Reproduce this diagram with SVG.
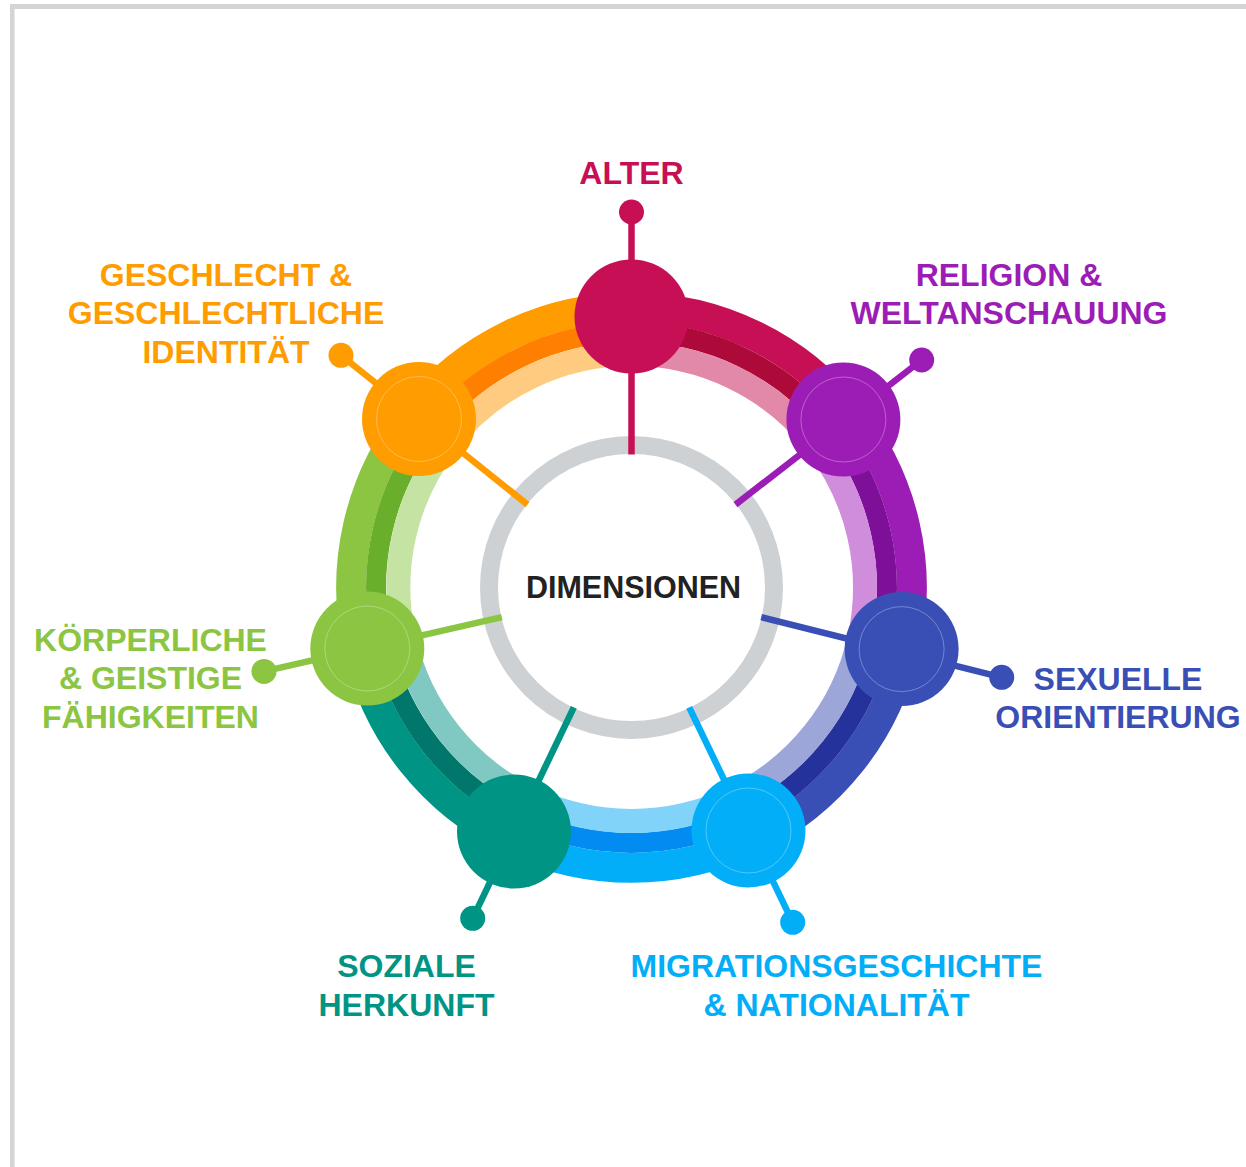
<svg xmlns="http://www.w3.org/2000/svg" width="1246" height="1167" viewBox="0 0 1246 1167">
<style>
text{font-family:"Liberation Sans",Arial,sans-serif;font-weight:bold;font-size:32px;text-anchor:middle}
text.ctr{font-size:30.5px}
.o{fill:none;stroke-width:30}
.m{fill:none;stroke-width:20}
.i{fill:none;stroke-width:24}
.ln{stroke-width:6.5;fill:none}
.inner{fill:none;stroke:#fff;stroke-opacity:0.3;stroke-width:1}
</style>
<rect x="0" y="0" width="1246" height="1167" fill="#fff"/>
<rect x="10" y="4" width="1236" height="5" fill="#D4D4D4"/>
<rect x="10" y="4" width="4.5" height="1163" fill="#D4D4D4"/>

<g id="ring">
  <!-- ALTER segment -->
  <path class="o" stroke="#C60F55" d="M631.5,307.2 A280.3,280.3 0 0 1 850.65,412.73"/>
  <path class="m" stroke="#AD0A3A" d="M631.5,332.1 A255.4,255.4 0 0 1 831.18,428.26"/>
  <path class="i" stroke="#E288A8" d="M631.5,354 A233.5,233.5 0 0 1 814.06,441.92"/>
  <!-- RELIGION segment -->
  <path class="o" stroke="#9C1DB5" d="M850.65,412.73 A280.3,280.3 0 0 1 904.77,649.87"/>
  <path class="m" stroke="#7E0F98" d="M831.18,428.26 A255.4,255.4 0 0 1 880.5,644.33"/>
  <path class="i" stroke="#CF8DDB" d="M814.06,441.92 A233.5,233.5 0 0 1 859.15,639.46"/>
  <!-- SEXUELLE segment -->
  <path class="o" stroke="#3A4FB6" d="M904.77,649.87 A280.3,280.3 0 0 1 753.12,840.04"/>
  <path class="m" stroke="#25329B" d="M880.5,644.33 A255.4,255.4 0 0 1 742.31,817.61"/>
  <path class="i" stroke="#9CA6D8" d="M859.15,639.46 A233.5,233.5 0 0 1 732.81,797.88"/>
  <!-- MIGRATION segment -->
  <path class="o" stroke="#03AEF8" d="M753.12,840.04 A280.3,280.3 0 0 1 509.88,840.04"/>
  <path class="m" stroke="#028CF2" d="M742.31,817.61 A255.4,255.4 0 0 1 520.69,817.61"/>
  <path class="i" stroke="#81D3FA" d="M732.81,797.88 A233.5,233.5 0 0 1 530.19,797.88"/>
  <!-- SOZIALE segment -->
  <path class="o" stroke="#009485" d="M509.88,840.04 A280.3,280.3 0 0 1 358.23,649.87"/>
  <path class="m" stroke="#00776A" d="M520.69,817.61 A255.4,255.4 0 0 1 382.5,644.33"/>
  <path class="i" stroke="#80C9C2" d="M530.19,797.88 A233.5,233.5 0 0 1 404.35,639.46"/>
  <!-- KOERPERLICHE segment -->
  <path class="o" stroke="#8BC541" d="M358.23,649.87 A280.3,280.3 0 0 1 412.35,412.73"/>
  <path class="m" stroke="#6AAF2B" d="M382.5,644.33 A255.4,255.4 0 0 1 431.82,428.26"/>
  <path class="i" stroke="#C5E3A3" d="M404.35,639.46 A233.5,233.5 0 0 1 448.94,441.92"/>
  <!-- GESCHLECHT segment -->
  <path class="o" stroke="#FF9C00" d="M412.35,412.73 A280.3,280.3 0 0 1 631.5,307.2"/>
  <path class="m" stroke="#FF7F00" d="M431.82,428.26 A255.4,255.4 0 0 1 631.5,332.1"/>
  <path class="i" stroke="#FFCB80" d="M448.94,441.92 A233.5,233.5 0 0 1 631.5,354"/>
</g>

<g id="center">
  <circle cx="631.5" cy="587.5" r="142.5" fill="#fff" stroke="#CDD1D4" stroke-width="18"/>
  <text class="ctr" x="633.5" y="598" fill="#222">DIMENSIONEN</text>
</g>

<g id="connectors">
  <line class="ln" stroke="#C60F55" x1="631.5" y1="454.5" x2="631.5" y2="212"/>
  <line class="ln" stroke="#9C1DB5" x1="735.5" y1="504.6" x2="921.7" y2="360"/>
  <line class="ln" stroke="#3A4FB6" x1="761.2" y1="617.1" x2="1001.7" y2="677.3"/>
  <line class="ln" stroke="#03AEF8" x1="689.2" y1="707.3" x2="792.7" y2="922.3"/>
  <line class="ln" stroke="#009485" x1="573.8" y1="707.3" x2="472.7" y2="918.3"/>
  <line class="ln" stroke="#8BC541" x1="501.8" y1="617.1" x2="264" y2="671.4"/>
  <line class="ln" stroke="#FF9C00" x1="527.5" y1="504.6" x2="341" y2="355.3"/>
</g>

<g id="node-alter">
  <circle cx="631.5" cy="316.5" r="57" fill="#C60F55"/>
  <circle cx="631.5" cy="212" r="12.5" fill="#C60F55"/>
  <text x="631.5" y="184" fill="#C60F55">ALTER</text>
</g>
<g id="node-religion">
  <circle cx="843.4" cy="419.5" r="57" fill="#9C1DB5"/>
  <circle class="inner" cx="843.4" cy="419.5" r="42.5"/>
  <circle cx="921.7" cy="360" r="12.5" fill="#9C1DB5"/>
  <text x="1009" y="286" fill="#9C1DB5">RELIGION &amp;</text>
  <text x="1009" y="324" fill="#9C1DB5">WELTANSCHAUUNG</text>
</g>
<g id="node-sexuelle">
  <circle cx="901.6" cy="649.1" r="57" fill="#3A4FB6"/>
  <circle class="inner" cx="901.6" cy="649.1" r="42.5"/>
  <circle cx="1001.7" cy="677.3" r="12.5" fill="#3A4FB6"/>
  <text x="1118" y="690" fill="#3A4FB6">SEXUELLE</text>
  <text x="1118" y="728" fill="#3A4FB6">ORIENTIERUNG</text>
</g>
<g id="node-migration">
  <circle cx="748.5" cy="830.5" r="57" fill="#03AEF8"/>
  <circle class="inner" cx="748.5" cy="830.5" r="42.5"/>
  <circle cx="792.7" cy="922.3" r="12.5" fill="#03AEF8"/>
  <text x="836.5" y="977" fill="#03AEF8">MIGRATIONSGESCHICHTE</text>
  <text x="836.5" y="1016" fill="#03AEF8">&amp; NATIONALITÄT</text>
</g>
<g id="node-soziale">
  <circle cx="514" cy="831.5" r="57" fill="#009485"/>
  <circle cx="472.7" cy="918.3" r="12.5" fill="#009485"/>
  <text x="406.5" y="977" fill="#009485">SOZIALE</text>
  <text x="406.5" y="1016" fill="#009485">HERKUNFT</text>
</g>
<g id="node-koerperliche">
  <circle cx="367.3" cy="648.5" r="57" fill="#8BC541"/>
  <circle class="inner" cx="367.3" cy="648.5" r="42.5"/>
  <circle cx="264" cy="671.4" r="12.5" fill="#8BC541"/>
  <text x="150.5" y="651" fill="#8BC541">KÖRPERLICHE</text>
  <text x="150.5" y="689" fill="#8BC541">&amp; GEISTIGE</text>
  <text x="150.5" y="728" fill="#8BC541">FÄHIGKEITEN</text>
</g>
<g id="node-geschlecht">
  <circle cx="419" cy="419" r="57" fill="#FF9C00"/>
  <circle class="inner" cx="419" cy="419" r="42.5"/>
  <circle cx="341" cy="355.3" r="12.5" fill="#FF9C00"/>
  <text x="226" y="286" fill="#FF9C00">GESCHLECHT &amp;</text>
  <text x="226" y="324" fill="#FF9C00">GESCHLECHTLICHE</text>
  <text x="226" y="363" fill="#FF9C00">IDENTITÄT</text>
</g>
</svg>
